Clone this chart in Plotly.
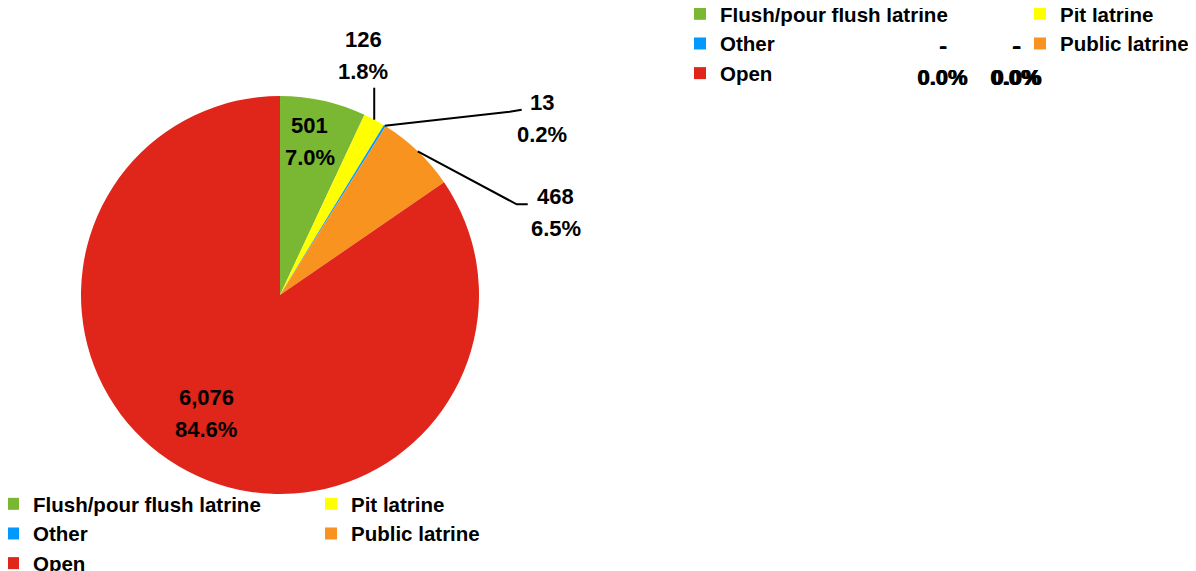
import math
import plotly.graph_objects as go

# sanitation type of households
categories = ["Flush/pour flush latrine", "Pit latrine", "Other", "Public latrine", "Open"]
households = [501, 126, 13, 468, 6076]
colours = ["#7AB733", "#FFFF00", "#0099FF", "#F7931E", "#E0251A"]
# second pie of the sheet has no data
households_2 = [0, 0, 0, 0, 0]
legend_column = ["a", "b", "a", "b", "a"]   # two-column legend layout

W, H = 1196, 571
OFF = 8                             # page body margin
FONT = "Liberation Sans, Arial, sans-serif"
CX, CY, R = 280, 295, 199          # pie centre / radius in screen px


def paper(x, y):
    return (x - OFF) / W, 1 - (y - OFF) / H


# how each label sits: inside (radial fraction) or outside with a leader line
label_style = {
    "Flush/pour flush latrine": dict(kind="in", f=0.78, nudge=(-4, -2)),
    "Pit latrine": dict(kind="out", path=[(0, -32)], lab=(-11, -64)),
    "Other": dict(kind="out", path=[(125, -14), (137, -16)], lab=(157, -7)),
    "Public latrine": dict(kind="out", path=[(99, 53), (110, 53)], lab=(138, 61)),
    "Open": dict(kind="in", f=0.70, nudge=(-9, -5)),
}
# where the (overlapping) labels of the empty pie end up
empty_label_pos = [(942, 62), (943, 62), (1015, 61), (1016, 61), (1017, 61)]

x0, y0 = paper(CX - R, CY + R)
x1, y1 = paper(CX + R, CY - R)

fig = go.Figure()
fig.add_trace(go.Pie(labels=categories, values=households, sort=False, direction="clockwise",
                     marker=dict(colors=colours, line=dict(width=0)), textinfo="none",
                     hoverinfo="label+value+percent", showlegend=False,
                     domain=dict(x=[x0, x1], y=[y0, y1])))
# legend entries (one legend under the pie, one for the empty second pie top right)
for leg in ("legend", "legend2"):
    for cat, c, g in zip(categories, colours, legend_column):
        fig.add_trace(go.Scatter(x=[None], y=[None], mode="markers", name=cat,
                                 marker=dict(symbol="square", size=12, color=c),
                                 legend=leg, legendgroup=leg + g, hoverinfo="skip"))

total = sum(households)
cum = 0
annotations, shapes = [], []
lab_font = dict(family=FONT, size=22, color="#000000", weight="bold")
for cat, v in zip(categories, households):
    mid = (cum + v / 2) / total * 2 * math.pi
    cum += v
    st = label_style[cat]
    if st["kind"] == "in":
        lx = CX + st["f"] * R * math.sin(mid) + st["nudge"][0]
        ly = CY - st["f"] * R * math.cos(mid) + st["nudge"][1]
    else:
        ex, ey = CX + R * math.sin(mid), CY - R * math.cos(mid)
        pts = [(ex, ey)] + [(ex + dx, ey + dy) for dx, dy in st["path"]]
        pp = [paper(*p) for p in pts]
        shapes.append(dict(type="path", xref="paper", yref="paper",
                           path="M" + " L".join(f"{a:.5f},{b:.5f}" for a, b in pp),
                           line=dict(color="#000000", width=2)))
        lx, ly = ex + st["lab"][0], ey + st["lab"][1]
    for txt, dy in ((f"{v:,}", -16), (f"{v / total * 100:.1f}%", 16)):
        ax, ay = paper(lx, ly + dy)
        annotations.append(dict(x=ax, y=ay, xref="paper", yref="paper", text=txt, showarrow=False,
                                xanchor="center", yanchor="middle", font=lab_font))

# labels of the empty pie (all stacked on top of each other)
for v, (lx, ly) in zip(households_2, empty_label_pos):
    for txt, dy in (("-" if v == 0 else f"{v:,}", -16), ("0.0%", 16)):
        ax, ay = paper(lx, ly + dy)
        annotations.append(dict(x=ax, y=ay, xref="paper", yref="paper", text=txt, showarrow=False,
                                xanchor="center", yanchor="middle", font=lab_font))

leg_font = dict(family=FONT, size=20.5, color="#000000", weight="bold")
lx1, ly1 = paper(-7, 583)          # bottom edge of the lower legend
lx2, ly2 = paper(680, -6)
fig.update_layout(
    width=W, height=H, margin=dict(l=0, r=0, t=0, b=0, autoexpand=False),
    paper_bgcolor="white", plot_bgcolor="white", showlegend=True,
    xaxis=dict(visible=False), yaxis=dict(visible=False),
    annotations=annotations, shapes=shapes,
    legend=dict(orientation="h", x=lx1, xanchor="left", y=ly1, yanchor="bottom",
                entrywidth=273, tracegroupgap=0, font=leg_font, traceorder="grouped",
                bgcolor="rgba(0,0,0,0)"),
    legend2=dict(orientation="h", x=lx2, xanchor="left", y=ly2, yanchor="top",
                 entrywidth=295, tracegroupgap=0, font=leg_font, traceorder="grouped",
                 bgcolor="rgba(0,0,0,0)"),
)
fig.write_html("out.html")
